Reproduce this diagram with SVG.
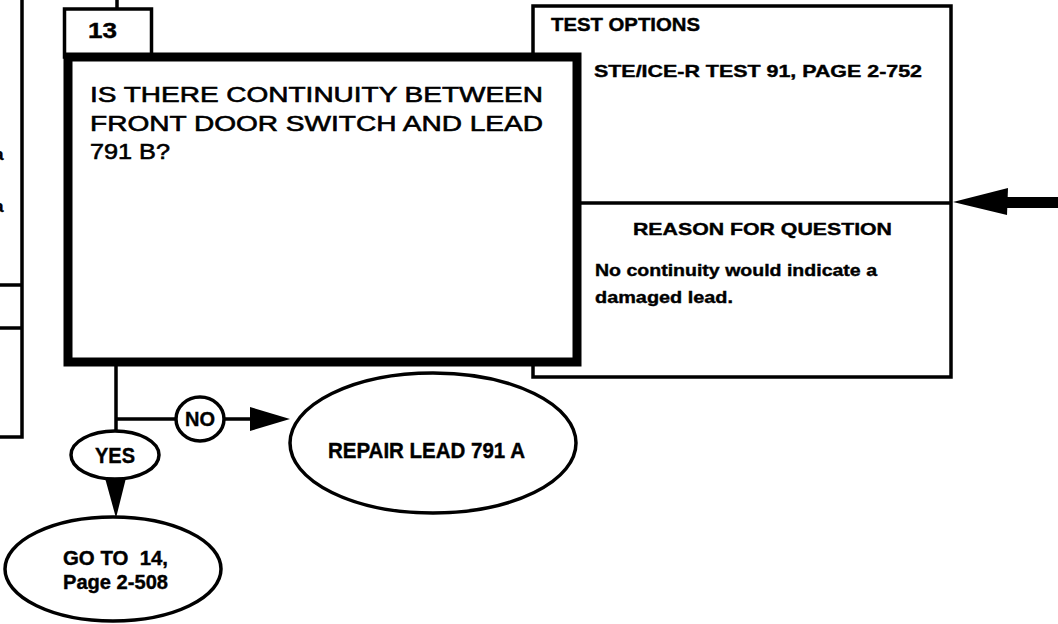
<svg xmlns="http://www.w3.org/2000/svg" width="1058" height="624" viewBox="0 0 1058 624">
<style>
.t{font-family:"Liberation Sans",Arial,sans-serif;fill:#000}
.b{font-weight:bold;stroke:#000;stroke-width:0.4}
.q{font-size:22px;stroke:#000;stroke-width:0.6}
.thin{fill:#fff;stroke:#000;stroke-width:3.5}
.line{fill:none;stroke:#000;stroke-width:3.5}
</style>
<rect width="1058" height="624" fill="#fff"/>
<g id="left-box">
<path class="line" d="M22,0 V437 H0 M0,285 H22 M0,328 H22"/>
<text class="t b" x="-6" y="160" font-size="17">a</text>
<text class="t b" x="-6" y="212" font-size="17">a</text>
</g>
<g id="info-box">
<rect class="thin" x="533" y="6" width="418" height="371"/>
<line class="line" x1="560" y1="203" x2="951" y2="203"/>
<text class="t b" x="551" y="31" font-size="18" textLength="149" lengthAdjust="spacingAndGlyphs">TEST OPTIONS</text>
<text class="t b" x="594" y="77" font-size="17" textLength="328" lengthAdjust="spacingAndGlyphs">STE/ICE-R TEST 91, PAGE 2-752</text>
<text class="t b" x="633" y="235" font-size="17" textLength="259" lengthAdjust="spacingAndGlyphs">REASON FOR QUESTION</text>
<text class="t b" x="595" y="276" font-size="17" textLength="282" lengthAdjust="spacingAndGlyphs">No continuity would indicate a</text>
<text class="t b" x="595" y="303" font-size="17" textLength="138" lengthAdjust="spacingAndGlyphs">damaged lead.</text>
</g>
<g id="connectors">
<line class="line" x1="117" y1="0" x2="117" y2="9"/>
<path class="line" d="M116,366 V431 M116,419 H176 M224,419 H255"/>
<polygon points="250,407 290,419 250,431" fill="#000"/>
<line class="line" x1="116" y1="479" x2="116" y2="482"/>
<polygon points="105,478 126,478 116,518" fill="#000"/>
<rect x="1002" y="197" width="56" height="11" fill="#000"/>
<polygon points="953,202 1008,188 1007,215" fill="#000"/>
</g>
<g id="node-13">
<rect class="thin" x="64.5" y="9" width="87" height="48"/>
<text class="t b" x="88" y="38" font-size="22" textLength="29" lengthAdjust="spacingAndGlyphs">13</text>
<rect x="68" y="57" width="509" height="305" fill="#fff" stroke="#000" stroke-width="9"/>
<text class="t q" x="90" y="102" textLength="453" lengthAdjust="spacingAndGlyphs">IS THERE CONTINUITY BETWEEN</text>
<text class="t q" x="90" y="131" textLength="453" lengthAdjust="spacingAndGlyphs">FRONT DOOR SWITCH AND LEAD</text>
<text class="t q" x="90" y="159" textLength="80" lengthAdjust="spacingAndGlyphs">791 B?</text>
</g>
<g id="no-label">
<ellipse class="thin" cx="200" cy="419" rx="24" ry="22"/>
<text class="t b" x="185" y="426" font-size="21" textLength="30" lengthAdjust="spacingAndGlyphs">NO</text>
</g>
<g id="yes-label">
<ellipse class="thin" cx="115" cy="455" rx="44" ry="24"/>
<text class="t b" x="95" y="463" font-size="22" textLength="40" lengthAdjust="spacingAndGlyphs">YES</text>
</g>
<g id="repair">
<ellipse class="thin" cx="433" cy="443" rx="143" ry="70"/>
<text class="t b" x="328" y="458" font-size="22" textLength="197" lengthAdjust="spacingAndGlyphs">REPAIR LEAD 791 A</text>
</g>
<g id="goto">
<ellipse class="thin" cx="113" cy="569" rx="108" ry="52"/>
<text class="t b" x="63" y="565" font-size="20" textLength="105" lengthAdjust="spacingAndGlyphs" style="white-space:pre">GO TO  14,</text>
<text class="t b" x="63" y="589" font-size="20" textLength="105" lengthAdjust="spacingAndGlyphs">Page 2-508</text>
</g>
</svg>
